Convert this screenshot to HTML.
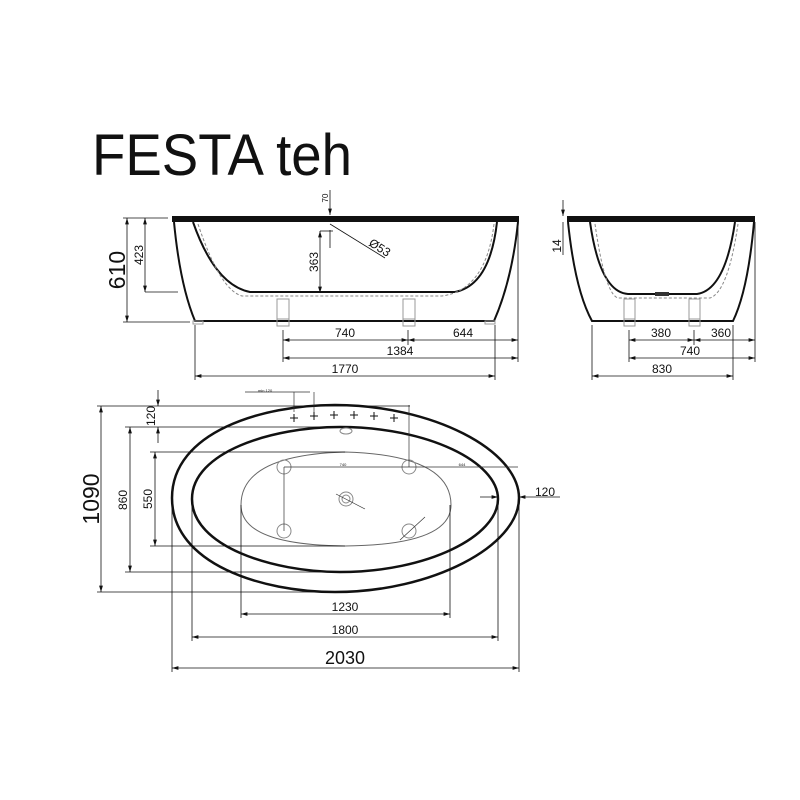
<!DOCTYPE html>
<html><head><style>body{margin:0;background:#fff}svg{display:block}text{font-family:"Liberation Sans",sans-serif;fill:#111}</style></head>
<body>
<svg width="800" height="800" viewBox="0 0 800 800" xmlns="http://www.w3.org/2000/svg">
<defs>
<marker id="a" viewBox="0 0 10 6" refX="10" refY="3" markerWidth="8" markerHeight="5" orient="auto-start-reverse"><path d="M0,0L10,3L0,6z" fill="#111"/></marker>
</defs>
<text x="92" y="175" font-size="58" textLength="260" lengthAdjust="spacingAndGlyphs">FESTA teh</text>

<!-- SIDE VIEW -->
<rect x="172" y="216" width="347" height="6" fill="#111"/>
<path d="M174,222 Q180,285 195,321 L494,321 Q512,280 518,222" fill="none" stroke="#111" stroke-width="2"/>
<path d="M193,222 Q215,285 250,292 L455,292 Q490,285 497,222" fill="none" stroke="#111" stroke-width="2"/>
<path d="M198,224 Q220,290 242,296 L442,296 Q486,290 494,224" fill="none" stroke="#888" stroke-width="1" stroke-dasharray="3,2"/>
<g fill="none" stroke="#999" stroke-width="1">
<rect x="277" y="299" width="12" height="20"/><rect x="403" y="299" width="12" height="20"/>
<rect x="277" y="319" width="12" height="7"/><rect x="403" y="319" width="12" height="7"/>
<rect x="193" y="321" width="10" height="3"/><rect x="485" y="321" width="10" height="3"/>
</g>
<g stroke="#111" stroke-width="0.8" fill="none">
<line x1="123" y1="218" x2="168" y2="218"/><line x1="123" y1="322" x2="190" y2="322"/>
<line x1="127" y1="218" x2="127" y2="322" marker-start="url(#a)" marker-end="url(#a)"/>
<line x1="145" y1="292" x2="178" y2="292"/>
<line x1="145" y1="218" x2="145" y2="292" marker-start="url(#a)" marker-end="url(#a)"/>
<line x1="320" y1="231" x2="333" y2="231"/>
<line x1="320" y1="231" x2="320" y2="293" marker-start="url(#a)" marker-end="url(#a)"/>
<line x1="330" y1="190" x2="330" y2="215" marker-end="url(#a)"/>
<line x1="330" y1="230" x2="330" y2="248"/>
<line x1="330" y1="224" x2="385" y2="258"/>
<line x1="283" y1="330" x2="283" y2="362"/><line x1="408" y1="330" x2="408" y2="345"/>
<line x1="518" y1="222" x2="518" y2="362"/><line x1="195" y1="325" x2="195" y2="380"/><line x1="495" y1="325" x2="495" y2="380"/>
<line x1="283" y1="340" x2="408" y2="340" marker-start="url(#a)" marker-end="url(#a)"/>
<line x1="408" y1="340" x2="518" y2="340" marker-start="url(#a)" marker-end="url(#a)"/>
<line x1="283" y1="358" x2="518" y2="358" marker-start="url(#a)" marker-end="url(#a)"/>
<line x1="195" y1="376" x2="495" y2="376" marker-start="url(#a)" marker-end="url(#a)"/>
</g>
<text font-size="23" transform="translate(125,270) rotate(-90)" text-anchor="middle">610</text>
<text font-size="12" transform="translate(143,255) rotate(-90)" text-anchor="middle">423</text>
<text font-size="12" transform="translate(318,262) rotate(-90)" text-anchor="middle">363</text>
<text font-size="8" transform="translate(328,198) rotate(-90)" text-anchor="middle">70</text>
<text font-size="12" transform="translate(368,245) rotate(32)">Ø53</text>
<text font-size="12" x="345" y="337" text-anchor="middle">740</text>
<text font-size="12" x="463" y="337" text-anchor="middle">644</text>
<text font-size="12" x="400" y="355" text-anchor="middle">1384</text>
<text font-size="12" x="345" y="373" text-anchor="middle">1770</text>

<!-- END VIEW -->
<rect x="567" y="216" width="188" height="6" fill="#111"/>
<path d="M568,222 Q575,290 592,321 L733,321 Q748,290 754,222" fill="none" stroke="#111" stroke-width="2"/>
<path d="M590,222 Q600,292 628,294 L697,294 Q725,290 735,222" fill="none" stroke="#111" stroke-width="2"/>
<path d="M595,224 Q605,294 618,298 L710,298 Q728,292 738,224" fill="none" stroke="#888" stroke-width="1" stroke-dasharray="3,2"/>
<rect x="655" y="292" width="14" height="4" fill="#333"/>
<g fill="none" stroke="#999" stroke-width="1">
<rect x="624" y="299" width="11" height="20"/><rect x="689" y="299" width="11" height="20"/>
<rect x="624" y="319" width="11" height="7"/><rect x="689" y="319" width="11" height="7"/>
</g>
<g stroke="#111" stroke-width="0.8" fill="none">
<line x1="563" y1="200" x2="563" y2="216" marker-end="url(#a)"/><line x1="563" y1="222" x2="563" y2="255"/>
<line x1="629" y1="330" x2="629" y2="362"/><line x1="694" y1="330" x2="694" y2="345"/>
<line x1="755" y1="222" x2="755" y2="362"/><line x1="592" y1="325" x2="592" y2="380"/><line x1="733" y1="325" x2="733" y2="380"/>
<line x1="629" y1="340" x2="694" y2="340" marker-start="url(#a)" marker-end="url(#a)"/>
<line x1="694" y1="340" x2="755" y2="340" marker-start="url(#a)" marker-end="url(#a)"/>
<line x1="629" y1="358" x2="755" y2="358" marker-start="url(#a)" marker-end="url(#a)"/>
<line x1="592" y1="376" x2="733" y2="376" marker-start="url(#a)" marker-end="url(#a)"/>
</g>
<text font-size="12" transform="translate(561,246) rotate(-90)" text-anchor="middle">14</text>
<text font-size="12" x="661" y="337" text-anchor="middle">380</text>
<text font-size="12" x="721" y="337" text-anchor="middle">360</text>
<text font-size="12" x="690" y="355" text-anchor="middle">740</text>
<text font-size="12" x="662" y="373" text-anchor="middle">830</text>

<!-- TOP VIEW -->
<path d="M172,498 C172,432 262,405 335,405 C432,405 519,450 519,498 C519,546 432,592 335,592 C262,592 172,564 172,498z" fill="none" stroke="#111" stroke-width="2.5"/>
<path d="M192,499 C192,452 272,427 340,427 C428,427 498,462 498,499 C498,536 428,572 340,572 C272,572 192,546 192,499z" fill="none" stroke="#111" stroke-width="2.5"/>
<path d="M241,505 Q241,455 345,452 Q451,455 451,505 Q451,545 345,546 Q241,545 241,505z" fill="none" stroke="#666" stroke-width="1"/>
<g fill="none" stroke="#888" stroke-width="1">
<circle cx="284" cy="467" r="7"/><circle cx="409" cy="467" r="7"/><circle cx="284" cy="531" r="7"/><circle cx="409" cy="531" r="7"/>
<circle cx="346" cy="499" r="7"/><circle cx="346" cy="499" r="4"/>
<ellipse cx="346" cy="431" rx="6" ry="3"/>
</g>
<g stroke="#333" stroke-width="0.7" fill="none">
<line x1="284" y1="467" x2="518" y2="467"/><line x1="284" y1="467" x2="284" y2="531"/>
<line x1="409" y1="405" x2="409" y2="467"/>
<line x1="336" y1="494" x2="365" y2="509"/><line x1="400" y1="540" x2="425" y2="517"/>
<line x1="245" y1="392" x2="310" y2="392"/><line x1="294" y1="392" x2="294" y2="412"/><line x1="314" y1="392" x2="314" y2="412"/>
</g>
<g stroke="#111" stroke-width="1">
<path d="M290,418h8M294,414v8M310,416h8M314,412v8M330,415h8M334,411v8M350,415h8M354,411v8M370,416h8M374,412v8M390,418h8M394,414v8"/>
</g>
<g stroke="#111" stroke-width="0.8" fill="none">
<line x1="97" y1="406" x2="410" y2="406"/><line x1="97" y1="592" x2="346" y2="592"/>
<line x1="101" y1="406" x2="101" y2="592" marker-start="url(#a)" marker-end="url(#a)"/>
<line x1="125" y1="427" x2="345" y2="427"/><line x1="125" y1="572" x2="345" y2="572"/>
<line x1="130" y1="427" x2="130" y2="572" marker-start="url(#a)" marker-end="url(#a)"/>
<line x1="150" y1="452" x2="345" y2="452"/><line x1="150" y1="546" x2="345" y2="546"/>
<line x1="155" y1="452" x2="155" y2="546" marker-start="url(#a)" marker-end="url(#a)"/>
<line x1="158" y1="390" x2="158" y2="406" marker-end="url(#a)"/><line x1="158" y1="427" x2="158" y2="443" marker-start="url(#a)"/>
<line x1="241" y1="505" x2="241" y2="618"/><line x1="450" y1="505" x2="450" y2="618"/>
<line x1="192" y1="499" x2="192" y2="641"/><line x1="498" y1="499" x2="498" y2="641"/>
<line x1="172" y1="498" x2="172" y2="672"/><line x1="519" y1="498" x2="519" y2="672"/>
<line x1="241" y1="614" x2="450" y2="614" marker-start="url(#a)" marker-end="url(#a)"/>
<line x1="192" y1="637" x2="498" y2="637" marker-start="url(#a)" marker-end="url(#a)"/>
<line x1="172" y1="668" x2="519" y2="668" marker-start="url(#a)" marker-end="url(#a)"/>
<line x1="480" y1="497" x2="498" y2="497" marker-end="url(#a)"/>
<line x1="519" y1="497" x2="560" y2="497" marker-start="url(#a)"/>
</g>
<text font-size="23" transform="translate(99,499) rotate(-90)" text-anchor="middle">1090</text>
<text font-size="12" transform="translate(127,500) rotate(-90)" text-anchor="middle">860</text>
<text font-size="12" transform="translate(152,499) rotate(-90)" text-anchor="middle">550</text>
<text font-size="12" transform="translate(155,416) rotate(-90)" text-anchor="middle">120</text>
<text font-size="12" x="545" y="496" text-anchor="middle">120</text>
<text font-size="12" x="345" y="611" text-anchor="middle">1230</text>
<text font-size="12" x="345" y="634" text-anchor="middle">1800</text>
<text font-size="18" x="345" y="664" text-anchor="middle">2030</text>
<text font-size="4" x="258" y="392">min 120</text>
<text font-size="4" x="343" y="466" text-anchor="middle">740</text>
<text font-size="4" x="462" y="466" text-anchor="middle">644</text>
</svg>
</body></html>
